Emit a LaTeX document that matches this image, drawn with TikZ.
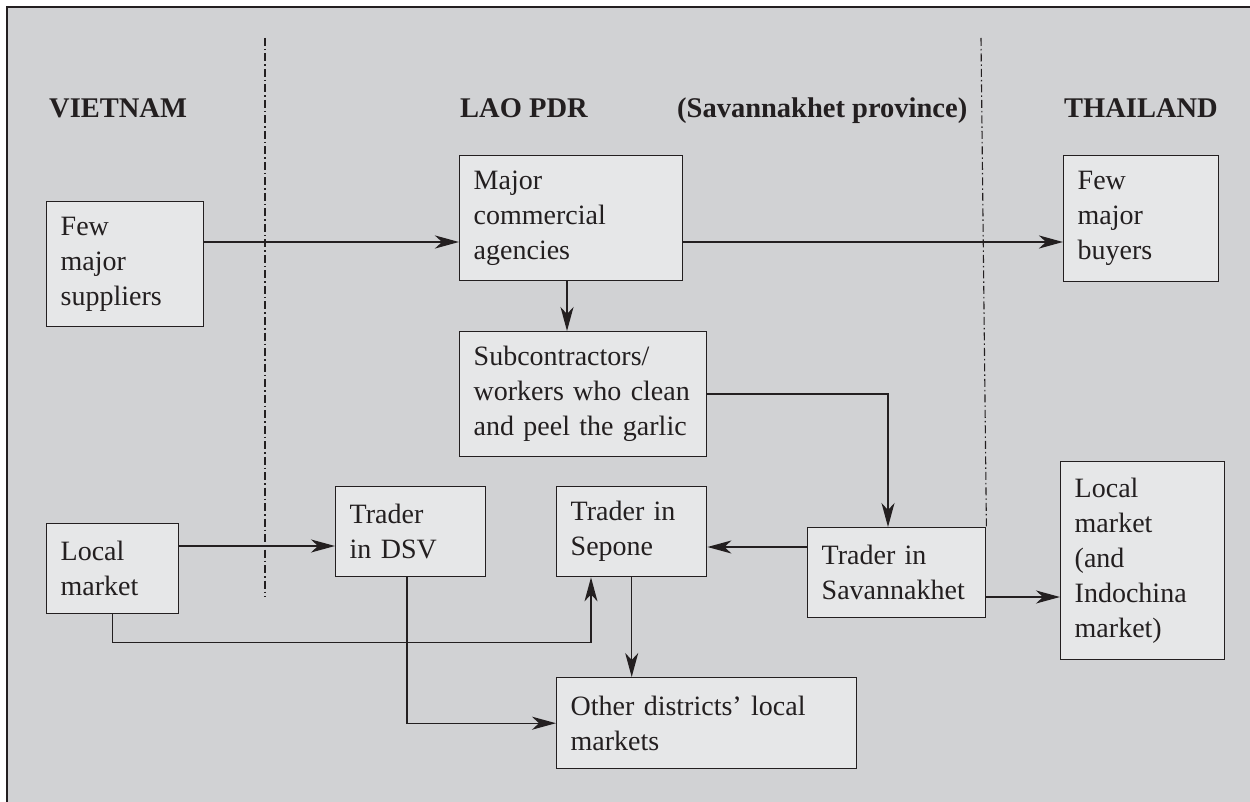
\documentclass[tikz,border=0pt]{standalone}
\usepackage{fontspec}
\setmainfont{Liberation Serif}
\usetikzlibrary{arrows.meta}
\hyphenpenalty=10000
\exhyphenpenalty=10000
\definecolor{panel}{HTML}{D1D2D4}
\definecolor{boxfill}{HTML}{E6E7E8}
\definecolor{ink}{HTML}{231F20}
\begin{document}
\begin{tikzpicture}[x=1pt,y=-1pt,
  every node/.style={text=ink},
  box/.style n args={2}{draw=ink, fill=boxfill, line width=1.4pt, anchor=north west,
    inner xsep=14pt, inner ysep=0pt, minimum width=#1, minimum height=#2,
    align=left, font=\fontsize{28}{35}\selectfont},
  head/.style={anchor=base west, inner sep=0pt, font=\fontsize{28.5}{34}\selectfont\bfseries},
  flow/.style={draw=ink, line width=1.4pt, -{Stealth[length=24pt,width=13pt,inset=7pt]}},
  mainflow/.style={flow, line width=2.8pt},
  border/.style={draw=ink, line width=1.1pt, dash pattern=on 8pt off 3pt on 1.5pt off 3pt}]
\useasboundingbox (0,0) rectangle (1250,802);
\fill[white] (0,0) rectangle (1250,802);
% grey panel, ruled along its top and left edges
\fill[panel] (7,7) rectangle (1250,802);
\draw[ink, line width=1.5pt] (7,802) -- (7,7) -- (1250,7);

% country headings
\node[head] (hvn) at (49,118) {VIETNAM};
\node[head] (hla) at (460,118) {LAO PDR};
\node[head] (hsv) at (677,118) {(Savannakhet province)};
\node[head] (hth) at (1064,118) {THAILAND};

% actors
\node[box={157pt}{125pt}, text width=129pt] (sup) at (46,201) {Few\\major\\suppliers};
\node[box={223pt}{125pt}, text width=195pt] (agn) at (459,155) {Major\\commercial\\agencies};
\node[box={155pt}{126pt}, text width=127pt] (buy) at (1063,155) {Few\\major\\buyers};
\node[box={247pt}{125pt}, text width=219pt] (sub) at (459,331) {Subcontractors/\\workers who clean\\and peel the garlic};
\node[box={132pt}{90pt}, text width=104pt] (lmv) at (46,523) {Local\\market};
\node[box={150pt}{90pt}, text width=122pt] (dsv) at (335,486) {Trader\\in DSV};
\node[box={150pt}{90pt}, text width=122pt] (sep) at (556,486) {Trader in\\Sepone};
\node[box={174pt}{90pt}, text width=150pt] (sav) at (807,527) {Trader in\\Savannakhet};
\node[box={164pt}{198pt}, text width=136pt] (lmt) at (1060,461) {Local\\market\\(and\\Indochina\\market)};
\node[box={300pt}{91pt}, text width=272pt] (oth) at (556,677) {Other districts’ local\\markets};

% border lines
\coordinate (bl) at (265,38);
\coordinate (br) at (981,38);
\draw[border] (bl) -- (265,597);
\draw[border] (br) -- (sav.north east);

% main trade flow
\draw[mainflow] ([yshift=-41pt]sup.north east) -- ([yshift=-87pt]agn.north west);
\draw[mainflow] ([yshift=-87pt]agn.north east) -- ([yshift=-87pt]buy.north west);

% secondary flows
\draw[flow] ([xshift=108pt]agn.south west) -- ([xshift=108pt]sub.north west);
\draw[flow] ([yshift=-63pt]sub.north east) -| ([xshift=81pt]sav.north west);
\draw[flow] ([yshift=-20pt]sav.north west) -- ([yshift=-61pt]sep.north east);
\draw[flow] ([yshift=-70pt]sav.north east) -- ([yshift=-136pt]lmt.north west);
\draw[flow] ([yshift=-23pt]lmv.north east) -- ([yshift=-60pt]dsv.north west);
\draw[flow] (lmv.south) -- ++(0,28) -| ([xshift=35pt]sep.south west);
\draw[flow] ([xshift=72pt]dsv.south west) |- (oth.west);
\draw[flow] (sep.south) -- (sep.south |- oth.north);
\end{tikzpicture}
\end{document}
